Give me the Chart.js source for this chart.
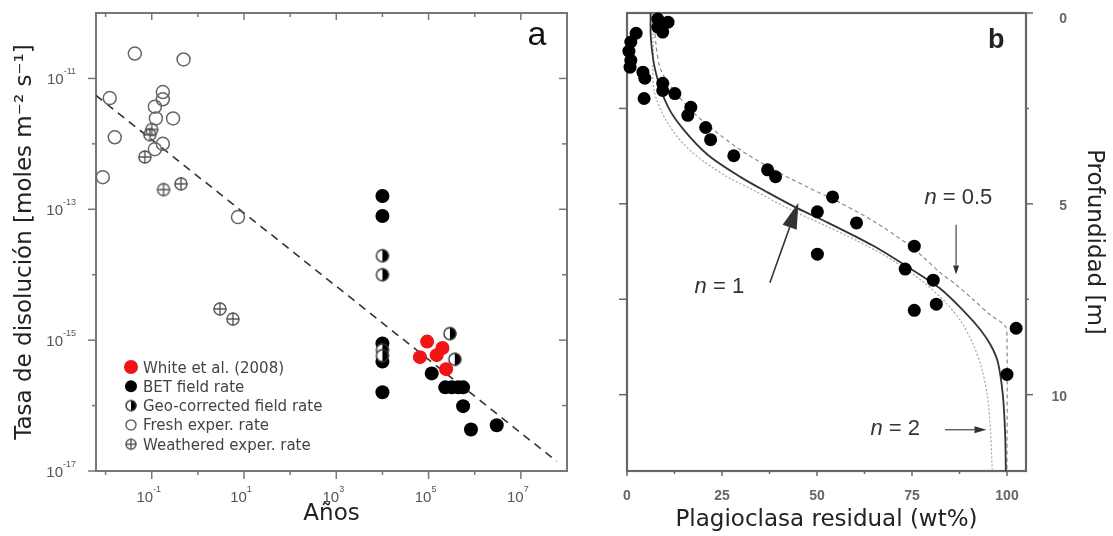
<!DOCTYPE html>
<html>
<head>
    <title>Tasa de disolución y plagioclasa residual</title>
    <script src="https://cdn.jsdelivr.net/npm/chart.js"></script>
    <style>
        body { margin: 0; background: #fff; }
        canvas { position: absolute; top: 0; }
        #chartA { left: 0; }
        #chartB { left: 585px; }
    </style>
</head>
<body>
    <canvas id="chartA" width="585" height="536"></canvas>
    <canvas id="chartB" width="528" height="536"></canvas>

    <script>
        // ---- panel a: age (years) vs dissolution rate (mol m-2 s-1) ----
        const whiteAge = [9.3e4, 6.5e4, 1.5e5, 2.0e5, 2.4e5];
        const whiteRate = [9.5e-16, 5.5e-16, 5.9e-16, 7.6e-16, 3.6e-16];

        const betAge = [1e4, 1e4, 1e4, 1e4, 1e4, 1.17e5, 2.3e5, 3.2e5, 4.4e5, 5.6e5, 5.6e5, 8.3e5, 3.0e6];
        const betRate = [1.6e-13, 7.9e-14, 8.9e-16, 4.7e-16, 1.6e-16, 3.1e-16, 1.9e-16, 1.9e-16, 1.9e-16, 1.9e-16, 9.8e-17, 4.3e-17, 5.0e-17];

        const geoAge = [1e4, 1e4, 1e4, 1e4, 2.9e5, 3.7e5];
        const geoRate = [1.95e-14, 1.0e-14, 7.1e-16, 5.8e-16, 1.26e-15, 5.1e-16];

        const freshAge = [0.043, 0.49, 0.0123, 0.174, 0.174, 0.117, 0.123, 0.29, 0.0158, 0.174, 0.117, 0.0087, 7.4];
        const freshRate = [2.4e-11, 1.95e-11, 5.0e-12, 6.2e-12, 4.8e-12, 3.7e-12, 2.45e-12, 2.45e-12, 1.26e-12, 1.0e-12, 8.3e-13, 3.1e-13, 7.6e-14];

        const weatheredAge = [0.10, 0.091, 0.071, 0.18, 0.43, 3.0, 5.75];
        const weatheredRate = [1.66e-12, 1.38e-12, 6.3e-13, 2.0e-13, 2.45e-13, 3.0e-15, 2.1e-15];

        const trendAge = [6.2e-3, 6e7];
        const trendRate = [5.5e-12, 1.4e-17];

        const legendLabels = ['White et al. (2008)', 'BET field rate', 'Geo-corrected field rate', 'Fresh exper. rate', 'Weathered exper. rate'];

        const ageTicks = [1e-2, 1e-1, 1e0, 1e1, 1e2, 1e3, 1e4, 1e5, 1e6, 1e7];
        const ageTickExp = ['', '-1', '', '1', '', '3', '', '5', '', '7'];
        const rateTicks = [1e-17, 1e-16, 1e-15, 1e-14, 1e-13, 1e-12, 1e-11];
        const rateTickExp = ['-17', '', '-15', '', '-13', '', '-11'];

        // ---- panel b: residual plagioclase (wt%) vs depth (m) ----
        const plagPct = [8.1, 10.8, 8.1, 9.4, 2.4, 1.0, 0.5, 1.0, 0.8, 4.2, 4.7, 4.5, 9.4, 9.4, 12.6, 16.8, 16.0, 20.7, 22.0, 28.1, 37.0, 39.1, 54.1, 50.1, 60.4, 50.1, 75.6, 73.2, 80.6, 75.6, 81.4, 102.4, 100.0];
        const plagDepth = [0.16, 0.24, 0.37, 0.50, 0.53, 0.76, 1.0, 1.24, 1.42, 1.55, 1.71, 2.24, 1.84, 2.03, 2.11, 2.47, 2.68, 3.0, 3.32, 3.74, 4.11, 4.29, 4.82, 5.21, 5.50, 6.32, 6.11, 6.71, 7.0, 7.79, 7.63, 8.26, 9.47];

        const n1Pct = [6.2, 6.3, 7.6, 10.8, 15.0, 21.3, 29.9, 37.0, 44.9, 53.0, 64.8, 73.8, 82.4, 89.0, 93.0, 95.7, 97.6, 98.9, 99.5, 99.7];
        const n1Depth = [0.0, 0.7, 1.57, 2.46, 3.07, 3.72, 4.3, 4.7, 5.12, 5.5, 6.1, 6.65, 7.22, 7.85, 8.3, 8.7, 9.15, 10.0, 11.0, 12.0];

        const n05Pct = [7.0, 7.6, 8.9, 12.3, 16.8, 22.0, 29.9, 38.6, 47.5, 56.2, 64.8, 73.8, 78.0, 82.4, 86.6, 91.0, 95.5, 99.5, 100.0, 100.0];
        const n05Depth = [0.0, 0.8, 1.49, 2.02, 2.54, 3.0, 3.59, 4.11, 4.56, 4.98, 5.45, 6.05, 6.4, 6.8, 7.12, 7.5, 7.9, 8.2, 8.5, 12.0];

        const n2Pct = [6.7, 6.9, 7.1, 10.8, 16.8, 25.5, 34.4, 43.0, 51.7, 60.6, 70.1, 78.0, 84.0, 88.0, 91.1, 93.3, 94.8, 95.7, 96.1];
        const n2Depth = [0.0, 1.0, 2.02, 2.9, 3.62, 4.24, 4.7, 5.15, 5.55, 5.97, 6.49, 7.05, 7.6, 8.1, 8.68, 9.3, 10.0, 11.0, 12.0];

        const pctTicks = [0, 12.5, 25, 37.5, 50, 62.5, 75, 87.5, 100];
        const pctTickLabels = ['0', '', '25', '', '50', '', '75', '', '100'];
        const depthTicks = [0, 2.5, 5, 7.5, 10];
        const depthTickLabels = ['0', '', '5', '', '10'];

        const sans = '"Liberation Sans", Arial, sans-serif';
        const dejavu = '"DejaVu Sans", sans-serif';

        function pts(xs, ys) {
            return xs.map((v, i) => ({ x: v, y: ys[i] }));
        }

        // small canvases used as point styles (half filled / crossed circle)
        function markerCanvas(kind, r) {
            const c = document.createElement('canvas');
            const s = Math.ceil(2 * r + 3);
            c.width = s;
            c.height = s;
            const g = c.getContext('2d');
            const m = s / 2;
            g.lineWidth = 1.4;
            if (kind === 'half') {
                g.beginPath(); g.arc(m, m, r, Math.PI / 2, Math.PI * 1.5); g.closePath();
                g.fillStyle = '#fff'; g.fill();
                g.beginPath(); g.arc(m, m, r, -Math.PI / 2, Math.PI / 2); g.closePath();
                g.fillStyle = '#000'; g.fill();
                g.beginPath(); g.arc(m, m, r - 0.5, 0, Math.PI * 2);
                g.strokeStyle = '#333'; g.stroke();
            } else {
                g.strokeStyle = '#555';
                g.beginPath(); g.arc(m, m, r - 0.5, 0, Math.PI * 2); g.stroke();
                g.beginPath();
                g.moveTo(m - r, m); g.lineTo(m + r, m);
                g.moveTo(m, m - r); g.lineTo(m, m + r);
                g.stroke();
            }
            return c;
        }

        const halfImg = markerCanvas('half', 6.5);
        const crossImg = markerCanvas('cross', 6.5);
        const halfSmall = markerCanvas('half', 5.5);
        const crossSmall = markerCanvas('cross', 5.5);

        // "10" with a raised exponent
        function drawPow(ctx, exp, x, baseY, align) {
            ctx.font = '15px ' + sans;
            const wb = ctx.measureText('10').width;
            ctx.font = '9px ' + sans;
            const we = ctx.measureText(exp).width;
            const left = align === 'right' ? x - wb - we : x - (wb + we) / 2;
            ctx.textAlign = 'left';
            ctx.textBaseline = 'alphabetic';
            ctx.font = '15px ' + sans;
            ctx.fillText('10', left, baseY);
            ctx.font = '9px ' + sans;
            ctx.fillText(exp, left + wb, baseY - 10);
        }

        function line(ctx, x1, y1, x2, y2) {
            ctx.beginPath();
            ctx.moveTo(x1, y1);
            ctx.lineTo(x2, y2);
            ctx.stroke();
        }

        function arrow(ctx, x1, y1, x2, y2, headLen, headW) {
            const ang = Math.atan2(y2 - y1, x2 - x1);
            const bx = x2 - headLen * Math.cos(ang);
            const by = y2 - headLen * Math.sin(ang);
            line(ctx, x1, y1, bx, by);
            ctx.beginPath();
            ctx.moveTo(x2, y2);
            ctx.lineTo(bx + headW / 2 * Math.sin(ang), by - headW / 2 * Math.cos(ang));
            ctx.lineTo(bx - headW / 2 * Math.sin(ang), by + headW / 2 * Math.cos(ang));
            ctx.closePath();
            ctx.fill();
        }

        const panelA = {
            id: 'panelA',
            beforeDatasetsDraw(chart) {
                const { ctx, chartArea: a, scales: { x, y } } = chart;
                ctx.save();
                ctx.strokeStyle = '#777';
                ctx.lineWidth = 2;
                ctx.strokeRect(a.left, a.top, a.right - a.left, a.bottom - a.top);
                ctx.lineWidth = 1.5;
                ageTicks.forEach((v, i) => {
                    const px = x.getPixelForValue(v);
                    const major = ageTickExp[i] !== '';
                    line(ctx, px, a.bottom, px, a.bottom + (major ? 8 : 4));
                    line(ctx, px, a.top, px, a.top + (major ? 7 : 4));
                });
                rateTicks.forEach((v, i) => {
                    const py = y.getPixelForValue(v);
                    const major = rateTickExp[i] !== '';
                    line(ctx, a.left - (major ? 8 : 4), py, a.left, py);
                    line(ctx, a.right - (major ? 8 : 5), py, a.right, py);
                });
                ctx.restore();
            },
            afterDraw(chart) {
                const { ctx, chartArea: a, scales: { x, y } } = chart;
                ctx.save();
                ctx.fillStyle = '#555';
                ageTicks.forEach((v, i) => {
                    if (ageTickExp[i]) drawPow(ctx, ageTickExp[i], x.getPixelForValue(v) - 3, a.bottom + 31, 'center');
                });
                rateTicks.forEach((v, i) => {
                    if (rateTickExp[i]) drawPow(ctx, rateTickExp[i], a.left - 20, y.getPixelForValue(v) + 6, 'right');
                });

                // legend inside the plot
                const order = [0, 2, 1, 3, 4];
                ctx.textAlign = 'left';
                ctx.textBaseline = 'alphabetic';
                legendLabels.forEach((label, i) => {
                    const ly = 367 + i * 19.3;
                    const lx = 131;
                    const ds = chart.data.datasets[order[i]];
                    if (ds.pointStyle === halfImg) {
                        ctx.drawImage(halfSmall, lx - halfSmall.width / 2, ly - halfSmall.height / 2);
                    } else if (ds.pointStyle === crossImg) {
                        ctx.drawImage(crossSmall, lx - crossSmall.width / 2, ly - crossSmall.height / 2);
                    } else {
                        ctx.beginPath();
                        ctx.arc(lx, ly, i === 0 ? 7 : (i === 1 ? 6 : 5), 0, Math.PI * 2);
                        ctx.fillStyle = ds.backgroundColor;
                        ctx.fill();
                        ctx.lineWidth = ds.borderWidth;
                        ctx.strokeStyle = ds.borderColor;
                        if (ds.borderWidth > 0) ctx.stroke();
                    }
                    ctx.fillStyle = '#444';
                    ctx.font = '15px ' + dejavu;
                    ctx.fillText(label, 143, ly + 5.5);
                });

                ctx.fillStyle = '#111';
                ctx.font = '34px ' + sans;
                ctx.textAlign = 'center';
                ctx.fillText('a', 537, 45);
                ctx.restore();
            }
        };

        new Chart(document.getElementById('chartA'), {
            type: 'scatter',
            data: {
                datasets: [
                    {
                        label: legendLabels[0], data: pts(whiteAge, whiteRate),
                        pointStyle: 'circle', pointRadius: 7, backgroundColor: '#f01414', borderColor: '#f01414', borderWidth: 0, clip: false
                    },
                    {
                        label: legendLabels[2], data: pts(geoAge, geoRate),
                        pointStyle: halfImg, pointRadius: 6.5, backgroundColor: '#000', borderColor: '#000', borderWidth: 0, clip: false
                    },
                    {
                        label: legendLabels[1], data: pts(betAge, betRate),
                        pointStyle: 'circle', pointRadius: 7, backgroundColor: '#000', borderColor: '#000', borderWidth: 0, clip: false
                    },
                    {
                        label: legendLabels[3], data: pts(freshAge, freshRate),
                        pointStyle: 'circle', pointRadius: 6.5, backgroundColor: 'rgba(0,0,0,0)', borderColor: '#666', borderWidth: 1.5, clip: false
                    },
                    {
                        label: legendLabels[4], data: pts(weatheredAge, weatheredRate),
                        pointStyle: crossImg, pointRadius: 6.5, backgroundColor: '#555', borderColor: '#555', borderWidth: 0, clip: false
                    },
                    {
                        type: 'line', label: 'tendencia', data: pts(trendAge, trendRate),
                        borderColor: '#333', borderWidth: 1.6, borderDash: [8, 6], pointRadius: 0, fill: false
                    }
                ]
            },
            options: {
                responsive: false,
                animation: false,
                layout: { padding: { left: 0, right: 18, top: 13, bottom: 0 } },
                plugins: { legend: { display: false }, tooltip: { enabled: false } },
                scales: {
                    x: {
                        type: 'logarithmic', min: 6.2e-3, max: 1e8,
                        grid: { display: false }, border: { display: false }, ticks: { display: false },
                        afterFit: s => { s.height = 65; },
                        title: { display: true, text: 'Años', color: '#222', font: { family: dejavu, size: 23 }, padding: { top: 0, bottom: 8 } }
                    },
                    y: {
                        type: 'logarithmic', min: 1e-17, max: 1e-10,
                        grid: { display: false }, border: { display: false }, ticks: { display: false },
                        afterFit: s => { s.width = 96; },
                        title: { display: true, text: 'Tasa de disolución [moles m⁻² s⁻¹]', color: '#222', font: { family: dejavu, size: 23 }, padding: { top: 11, bottom: 0 } }
                    }
                }
            },
            plugins: [panelA]
        });

        const panelB = {
            id: 'panelB',
            beforeDatasetsDraw(chart) {
                const { ctx, chartArea: a, scales: { x, y } } = chart;
                ctx.save();
                ctx.strokeStyle = '#666';
                ctx.lineWidth = 2.2;
                ctx.strokeRect(a.left, a.top, a.right - a.left, a.bottom - a.top);
                ctx.lineWidth = 1.5;
                pctTicks.forEach((v, i) => {
                    const px = x.getPixelForValue(v);
                    line(ctx, px, a.bottom, px, a.bottom + (pctTickLabels[i] ? 5 : 3));
                });
                depthTicks.forEach((v, i) => {
                    const py = y.getPixelForValue(v);
                    if (v > 0) line(ctx, a.left - 8, py, a.left, py);
                    line(ctx, a.right, py, a.right + (depthTickLabels[i] ? 7 : 3), py);
                });
                ctx.restore();
            },
            afterDraw(chart) {
                const { ctx, chartArea: a, scales: { x, y } } = chart;
                ctx.save();
                ctx.fillStyle = '#666';
                ctx.font = 'bold 14px ' + sans;
                ctx.textBaseline = 'alphabetic';
                ctx.textAlign = 'center';
                pctTicks.forEach((v, i) => {
                    if (pctTickLabels[i]) ctx.fillText(pctTickLabels[i], x.getPixelForValue(v), a.bottom + 29);
                });
                ctx.textAlign = 'right';
                depthTicks.forEach((v, i) => {
                    if (depthTickLabels[i]) ctx.fillText(depthTickLabels[i], a.right + 41, y.getPixelForValue(v) + (v === 0 ? 10 : 6));
                });

                // curve labels and arrows (positions in data units)
                ctx.fillStyle = '#333';
                ctx.strokeStyle = '#333';
                ctx.textAlign = 'left';
                const label = (num, cx, cy) => {
                    ctx.font = 'italic 22px ' + sans;
                    const wn = ctx.measureText('n').width;
                    ctx.font = '22px ' + sans;
                    const wr = ctx.measureText(' = ' + num).width;
                    const left = x.getPixelForValue(cx) - (wn + wr) / 2;
                    const base = y.getPixelForValue(cy) + 8;
                    ctx.font = 'italic 22px ' + sans;
                    ctx.fillText('n', left, base);
                    ctx.font = '22px ' + sans;
                    ctx.fillText(' = ' + num, left + wn, base);
                };
                label('1', 24.3, 7.12);
                label('0.5', 87.2, 4.79);
                label('2', 70.6, 10.86);

                ctx.lineWidth = 1.6;
                arrow(ctx, x.getPixelForValue(37.6), y.getPixelForValue(7.07), x.getPixelForValue(45.1), y.getPixelForValue(4.97), 26, 15);
                ctx.lineWidth = 1.1;
                arrow(ctx, x.getPixelForValue(86.6), y.getPixelForValue(5.55), x.getPixelForValue(86.6), y.getPixelForValue(6.85), 9, 6);
                arrow(ctx, x.getPixelForValue(83.7), y.getPixelForValue(10.92), x.getPixelForValue(94.6), y.getPixelForValue(10.92), 12, 7);

                ctx.fillStyle = '#222';
                ctx.font = 'bold 27px ' + sans;
                ctx.textAlign = 'center';
                ctx.fillText('b', x.getPixelForValue(97.2), 48);
                ctx.restore();
            }
        };

        new Chart(document.getElementById('chartB'), {
            type: 'scatter',
            data: {
                datasets: [
                    {
                        label: 'datos', data: pts(plagPct, plagDepth),
                        pointStyle: 'circle', pointRadius: 6.5, backgroundColor: '#000', borderColor: '#000', borderWidth: 0, clip: false
                    },
                    {
                        type: 'line', label: 'n = 1', data: pts(n1Pct, n1Depth),
                        borderColor: '#333', borderWidth: 1.8, pointRadius: 0, tension: 0.3, fill: false
                    },
                    {
                        type: 'line', label: 'n = 0.5', data: pts(n05Pct, n05Depth),
                        borderColor: '#8c8c8c', borderWidth: 1.2, borderDash: [4, 3], pointRadius: 0, tension: 0.3, fill: false
                    },
                    {
                        type: 'line', label: 'n = 2', data: pts(n2Pct, n2Depth),
                        borderColor: '#a5a5a5', borderWidth: 1.2, borderDash: [2, 2], pointRadius: 0, tension: 0.3, fill: false
                    }
                ]
            },
            options: {
                responsive: false,
                animation: false,
                layout: { padding: { left: 42, right: 0, top: 13, bottom: 0 } },
                plugins: { legend: { display: false }, tooltip: { enabled: false } },
                scales: {
                    x: {
                        type: 'linear', min: 0, max: 105,
                        grid: { display: false }, border: { display: false }, ticks: { display: false },
                        afterFit: s => { s.height = 65; },
                        title: { display: true, text: 'Plagioclasa residual (wt%)', color: '#222', font: { family: dejavu, size: 23 }, padding: { top: 0, bottom: 2 } }
                    },
                    y: {
                        type: 'linear', position: 'right', reverse: true, min: 0, max: 12,
                        grid: { display: false }, border: { display: false }, ticks: { display: false },
                        afterFit: s => { s.width = 87; },
                        title: { display: true, text: 'Profundidad [m]', color: '#222', font: { family: dejavu, size: 23 }, padding: { top: 5, bottom: 0 } }
                    }
                }
            },
            plugins: [panelB]
        });
    </script>
</body>
</html>
